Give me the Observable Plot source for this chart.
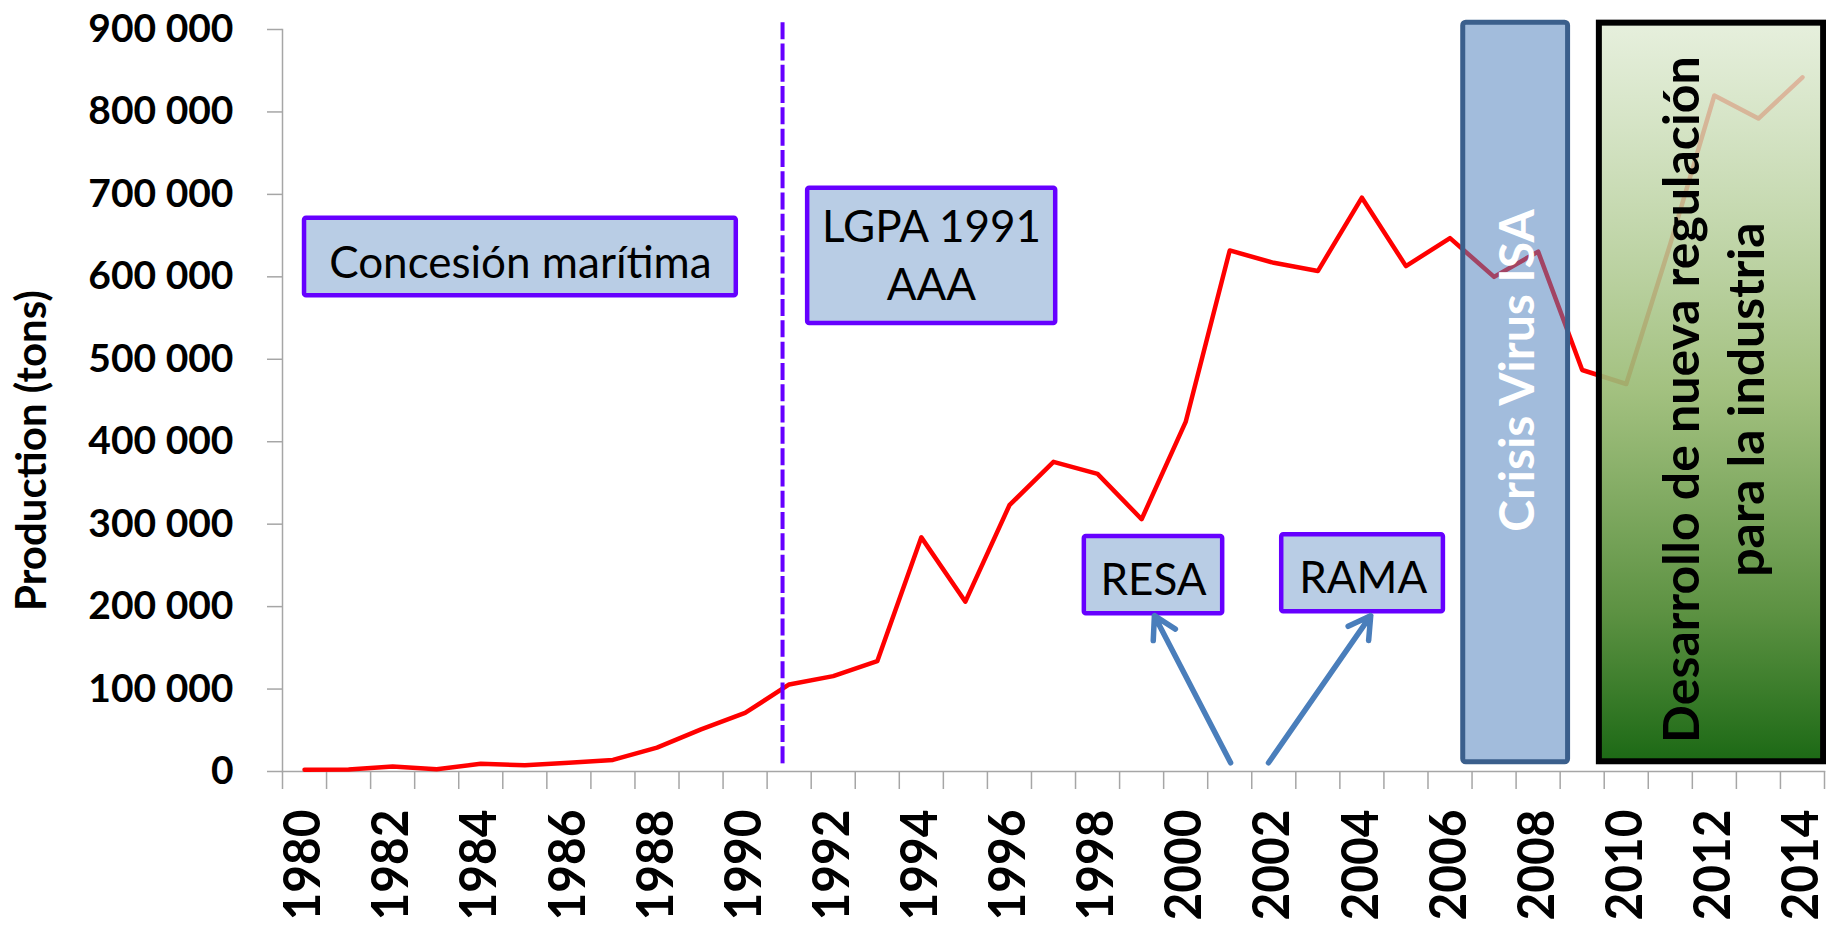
<!DOCTYPE html>
<html>
<head>
<meta charset="utf-8">
<script src="https://cdn.jsdelivr.net/npm/d3@7"></script>
<script src="https://cdn.jsdelivr.net/npm/@observablehq/plot@0.6"></script>
<style>
  html, body { margin: 0; padding: 0; background: #fff; }
  #chart svg { display: block; }
</style>
</head>
<body>
<div id="chart"></div>
<script>
// ---- data ----
const years = [1980, 1981, 1982, 1983, 1984, 1985, 1986, 1987, 1988, 1989,
               1990, 1991, 1992, 1993, 1994, 1995, 1996, 1997, 1998, 1999,
               2000, 2001, 2002, 2003, 2004, 2005, 2006, 2007, 2008, 2009,
               2010, 2011, 2012, 2013, 2014];
const production = [2000, 2500, 6000, 2800, 9300, 7700, 10500, 14000, 29000, 51000,
                    71000, 105600, 115700, 133800, 284000, 206000, 323000, 375600, 361000, 306000,
                    424000, 632000, 617000, 607000, 696000, 613000, 647000, 600000, 630600, 487000,
                    470000, 640000, 820000, 792000, 842000];
const yTicks = [0, 100000, 200000, 300000, 400000, 500000, 600000, 700000, 800000, 900000];
const xLabelYears = [1980, 1982, 1984, 1986, 1988, 1990, 1992, 1994, 1996, 1998,
                     2000, 2002, 2004, 2006, 2008, 2010, 2012, 2014];
const yLabel = "Production (tons)";
const yLabelX = [1973.82];
const yLabelY = [389300];

// annotation boxes (data coordinates)
const boxText = ["Concesión marítima", "LGPA 1991\nAAA", "RESA", "RAMA"];
const boxX1 = [1980.0, 1991.42, 1997.70, 2002.18];
const boxX2 = [1989.80, 1997.05, 2000.84, 2005.85];
const boxY1 = [577000, 543500, 191400, 193900];
const boxY2 = [671000, 707300, 284900, 287300];
const boxLabelX = [1984.9, 1994.23, 1999.27, 2004.03];
const boxLabelY = [621100, 629200, 236300, 238800];

// period boxes
const periodText = ["Crisis Virus ISA", "Desarrollo de nueva regulación\npara la industria"];
const periodX1 = [2006.30, 2009.39];
const periodX2 = [2008.68, 2014.48];
const periodY1 = [11200, 11800];
const periodY2 = [908200, 907700];
const periodLabelX = [2007.55, 2011.91];
const periodLabelY = [486400, 451000];

// law marker (dashed line)
const lawYear = [1990.85];
const lawY1 = [9300];
const lawY2 = [908800];

// arrows
const arrowX1 = [2001.02, 2001.88];
const arrowY1 = [10600, 10600];
const arrowX2 = [1999.29, 2004.20];
const arrowY2 = [189000, 189000];

// ---- build tables ----
const data = years.map((year, i) => ({year, value: production[i]}));
const xBounds = years.map(y => y - 0.5).concat([years[years.length - 1] + 0.5]);
const boxes = boxText.map((t, i) => ({t, x1: boxX1[i], x2: boxX2[i], y1: boxY1[i], y2: boxY2[i], lx: boxLabelX[i], ly: boxLabelY[i]}));
const periods = periodText.map((t, i) => ({t, x1: periodX1[i], x2: periodX2[i], y1: periodY1[i], y2: periodY2[i], lx: periodLabelX[i], ly: periodLabelY[i]}));
const law = lawYear.map((x, i) => ({x, y1: lawY1[i], y2: lawY2[i]}));
const arrows = arrowX1.map((x, i) => ({x1: x, y1: arrowY1[i], x2: arrowX2[i], y2: arrowY2[i]}));
const titles = [{t: yLabel, x: yLabelX[0], y: yLabelY[0]}];

const fmt = v => d3.format(",")(v).replace(/,/g, " ");

const plot = Plot.plot({
  width: 1826,
  height: 930,
  marginLeft: 282,
  marginRight: 2,
  marginTop: 29,
  marginBottom: 159,
  x: {type: "linear", domain: [1979.5, 2014.5]},
  y: {domain: [0, 900000]},
  style: {fontFamily: "Lato, sans-serif", background: "#fff", overflow: "visible"},
  marks: [
    Plot.frame({anchor: "left", stroke: "#a6a6a6", strokeWidth: 1.5}),
    Plot.frame({anchor: "bottom", stroke: "#a6a6a6", strokeWidth: 1.5}),
    Plot.axisY({ticks: yTicks, tickSize: 15, tickPadding: 34, tickFormat: fmt,
                stroke: "#a6a6a6", strokeWidth: 1.5, fill: "#000",
                fontSize: 39, fontWeight: "bold", label: null}),
    Plot.axisX({ticks: xBounds, tickSize: 18, fill: "none", stroke: "#a6a6a6", strokeWidth: 1.5, label: null}),
    Plot.axisX({ticks: xLabelYears, tickSize: 0, tickPadding: 38, tickRotate: -90,
                tickFormat: d => String(d), fill: "#000", dx: -1,
                fontSize: 52, fontWeight: "bold", label: null}),
    Plot.text(titles, {x: "x", y: "y", text: "t", rotate: -90,
                       fontSize: 42, fontWeight: "bold", fill: "#000"}),
    Plot.line(data, {x: "year", y: "value", stroke: "#ff0000", strokeWidth: 4.5}),
    Plot.ruleX(law, {x: "x", y1: "y1", y2: "y2", stroke: "#6600ff", strokeWidth: 4, strokeDasharray: "17,4.3"}),
    Plot.rect(boxes, {x1: "x1", x2: "x2", y1: "y1", y2: "y2", fill: "#b9cde5",
                      stroke: "#6600ff", strokeWidth: 4.5, rx: 2}),
    Plot.text(boxes, {x: "lx", y: "ly", text: "t", fontSize: 44, lineHeight: 1.32, fill: "#000"}),
    Plot.arrow(arrows, {x1: "x1", y1: "y1", x2: "x2", y2: "y2", stroke: "#4a7ebb",
                        strokeWidth: 5.5, headLength: 6.8, headAngle: 60}),
    Plot.rect([periods[0]], {x1: "x1", x2: "x2", y1: "y1", y2: "y2", fill: "#4f81bd", fillOpacity: 0.53,
                             stroke: "#3b5f8c", strokeWidth: 5, rx: 3}),
    Plot.rect([periods[1]], {x1: "x1", x2: "x2", y1: "y1", y2: "y2", fill: "url(#greenGrad)",
                             stroke: "#000", strokeWidth: 6}),
    Plot.text([periods[0]], {x: "lx", y: "ly", text: "t", rotate: -90, fontSize: 48, fontWeight: "bold", fill: "#fff"}),
    Plot.text([periods[1]], {x: "lx", y: "ly", text: "t", rotate: -90, fontSize: 50, fontWeight: "bold",
                             lineHeight: 1.3, fill: "#000"})
  ]
});

// gradient definition for the green period box
const svg = d3.select(plot);
const defs = svg.insert("defs", ":first-child");
const grad = defs.append("linearGradient").attr("id", "greenGrad")
  .attr("x1", 0).attr("y1", 0).attr("x2", 0).attr("y2", 1);
[[0, "#dfebd3", 0.78], [0.5, "#9abb74", 0.92], [0.8, "#578e3c", 0.97], [1, "#1c6915", 1]]
  .forEach(([o, c, a]) => grad.append("stop").attr("offset", o).attr("stop-color", c).attr("stop-opacity", a));

// condense the rotated year labels
svg.selectAll('g[aria-label="x-axis tick label"] text').each(function () {
  const t = this.getAttribute("transform");
  if (t) this.setAttribute("transform", t + " scale(0.92,1)");
});

document.getElementById("chart").appendChild(plot);
</script>
</body>
</html>
